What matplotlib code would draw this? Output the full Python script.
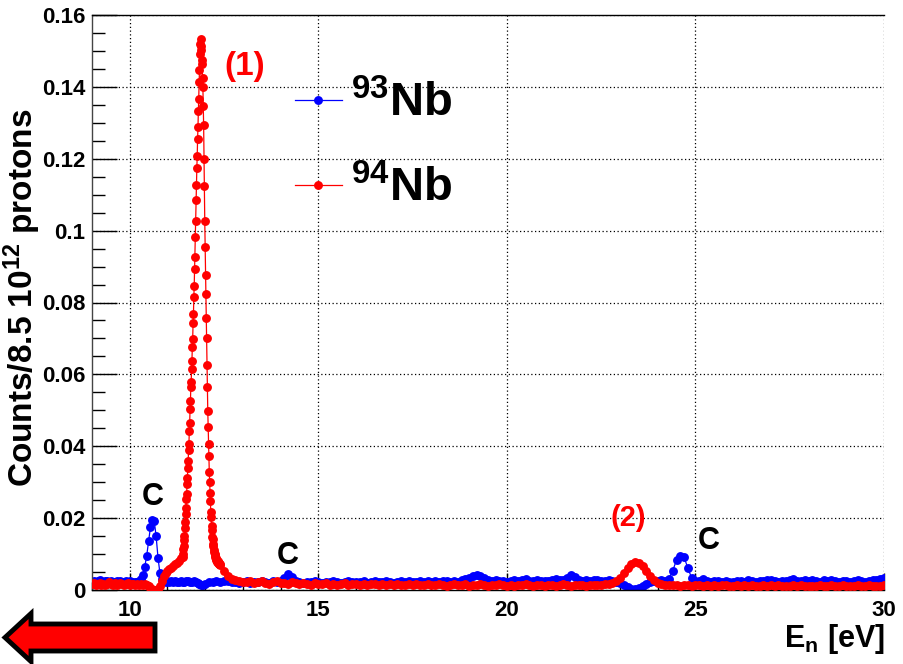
import numpy as np
import matplotlib
matplotlib.use("Agg")
import matplotlib.pyplot as plt
from matplotlib import patches, transforms
from matplotlib.ticker import MultipleLocator, FuncFormatter

# ---- data (counts in units of 1e-3 per 8.5e12 protons) ----
# 94Nb, three binnings: coarse left, fine around resonance (1), coarse right
nb94_x_left = np.linspace(9.0, 11.35, 48)
nb94_y_left = [1.6, 1.9, 1.4, 1.7, 2.0, 1.5, 1.8, 1.3, 1.6, 2.1,
               1.7, 1.5, 1.9, 1.4, 1.8, 2.0, 1.6, 1.4, 1.7, 1.9,
               1.5, 1.8, 1.6, 1.3, 1.7, 1.5, 1.8, 1.4, 1.6, 1.3,
               1.0, 0.6, 0.3, 0.1, 0.0, 0.3, 1.2, 2.5, 3.8, 4.8,
               5.4, 5.9, 6.2, 6.7, 7.1, 7.6, 8.2, 8.8]
nb94_x_peak = np.linspace(11.40, 12.39, 100)
nb94_y_peak = [9.3, 10.1, 11.4, 12.2, 13.8, 15.1, 17.3, 18.8, 21.2, 22.9,
               25.4, 26.8, 29.5, 31.2, 33.9, 35.8, 38.9, 40.6, 44.2, 46.5,
               50.3, 52.6, 56.4, 57.9, 61.5, 63.8, 67.6, 69.9, 74.3, 76.8,
               81.5, 84.6, 89.4, 92.8, 98.3, 102.6, 108.4, 112.7, 117.5, 120.8,
               125.6, 128.7, 133.4, 136.5, 141.3, 144.6, 149.1, 151.8, 153.2, 151.4,
               150.2, 147.6, 146.3, 142.5, 140.1, 134.6, 129.4, 119.8, 112.3, 102.7,
               95.4, 87.6, 82.3, 75.8, 70.2, 62.7, 56.4, 49.8, 45.3, 40.6,
               37.2, 32.8, 30.1, 26.9, 24.7, 21.8, 20.3, 17.9, 16.6, 14.8,
               14.1, 12.8, 12.2, 11.1, 10.6, 9.9, 9.7, 9.2, 8.9, 8.4,
               8.6, 8.1, 7.9, 8.2, 7.6, 7.8, 7.3, 7.5, 7.1, 7.2]
nb94_x_right = np.linspace(12.4, 30.0, 177)
nb94_y_right = [7.0, 5.2, 3.8, 3.1, 2.8, 2.5, 2.3,
                2.1, 2.4, 1.9, 2.2, 2.5, 2.0, 1.8, 2.2, 2.4, 1.9,
                2.0, 1.7, 2.1, 1.9, 1.6, 2.0, 1.8, 1.5, 1.9, 1.7,
                1.6, 1.9, 1.5, 1.8, 1.4, 1.7, 1.9, 1.5, 1.6, 1.8,
                1.5, 1.7, 1.4, 1.8, 1.6, 1.3, 1.7, 1.5, 1.8, 1.4,
                1.6, 1.3, 1.5, 1.7, 1.4, 1.6, 1.3, 1.5, 1.7, 1.4,
                1.3, 1.6, 1.4, 1.2, 1.5, 1.7, 1.3, 1.4, 1.6, 1.2,
                1.5, 1.3, 1.6, 1.4, 1.2, 1.5, 1.3, 1.6, 1.4, 1.2,
                1.4, 1.2, 1.5, 1.3, 1.6, 1.4, 1.2, 1.3, 1.5, 1.2,
                1.3, 1.5, 1.2, 1.4, 1.6, 1.3, 1.2, 1.4, 1.3, 1.5,
                1.2, 1.4, 1.3, 1.5, 1.4, 1.6, 1.8, 2.0, 2.6, 3.4,
                4.6, 6.0, 7.2, 7.8, 7.6, 6.8, 5.4, 3.9, 2.7, 1.9,
                1.6, 1.4, 1.3, 1.5, 1.4, 1.2, 1.3, 1.4, 1.2, 1.3,
                1.4, 1.2, 1.3, 1.1, 1.4, 1.2, 1.3, 1.5, 1.2, 1.1,
                1.3, 1.2, 1.4, 1.1, 1.3, 1.2, 1.0, 1.3, 1.2, 1.4,
                1.1, 1.3, 1.2, 1.0, 1.2, 1.4, 1.1, 1.3, 1.2, 1.0,
                1.2, 1.1, 1.3, 1.2, 1.0, 1.3, 1.1, 1.2, 1.4, 1.1,
                1.2, 1.0, 1.3, 1.1, 1.2, 1.4, 1.1, 1.0, 1.2, 1.3]

# 93Nb
nb93_x_left = np.linspace(9.0, 11.95, 60)
nb93_y_left = [2.2, 2.5, 2.1, 2.4, 2.7, 2.3, 2.0, 2.4, 2.6, 2.2,
               2.5, 2.1, 2.3, 2.6, 2.2, 2.4, 2.0, 2.3, 2.5, 2.1,
               2.4, 2.2, 2.0, 2.3, 2.1, 2.4, 3.0, 4.2, 6.5, 9.5,
               13.5, 17.5, 19.6, 19.2, 15.0, 9.0, 4.8, 3.0, 2.4, 2.2,
               2.5, 2.2, 2.4, 2.1, 2.6, 2.3, 2.2, 2.5, 2.3, 2.1,
               2.4, 2.6, 2.2, 2.3, 2.5, 2.1, 1.9, 1.6, 1.4, 1.5]
nb93_x_right = np.linspace(12.0, 30.0, 181)
nb93_y_right = [1.8, 2.1, 2.3, 2.5, 2.2, 2.6, 2.4, 2.1, 2.3, 2.0,
                2.2, 2.4, 2.0, 2.3, 2.1, 2.5, 2.2, 2.0, 2.4, 2.3,
                2.6, 3.4, 4.4, 3.6, 2.5, 2.2, 2.0, 2.3, 2.1, 2.4,
                2.2, 2.0, 2.3, 2.1, 2.4, 2.2, 2.0, 2.3, 2.5, 2.1,
                2.3, 2.1, 2.4, 2.0, 2.2, 2.5, 2.3, 2.1, 2.4, 2.2,
                2.0, 2.3, 2.5, 2.2, 2.4, 2.1, 2.3, 2.6, 2.2, 2.4,
                2.3, 2.5, 2.2, 2.4, 2.6, 2.3, 2.5, 2.2, 2.7, 3.0,
                3.4, 3.8, 4.2, 3.9, 3.3, 2.8, 2.5, 2.7, 2.4, 2.6,
                2.3, 2.5, 2.7, 2.4, 2.9, 3.1, 2.6, 2.4, 2.7, 2.5,
                2.6, 2.4, 2.8, 3.0, 2.7, 2.9, 3.4, 4.2, 3.6, 2.9,
                2.6, 2.8, 2.5, 2.7, 2.9, 2.6, 2.4, 2.7, 2.5, 2.3,
                2.0, 1.4, 0.8, 0.4, 0.3, 0.5, 1.0, 1.6, 2.2, 2.5,
                2.4, 2.7, 2.6, 3.2, 5.4, 8.4, 9.6, 9.2, 6.0, 3.4,
                2.6, 2.4, 3.2, 2.5, 2.3, 2.6, 2.4, 2.2, 2.5, 2.3,
                2.1, 2.4, 2.6, 2.3, 2.8, 2.5, 2.2, 2.6, 2.4, 2.7,
                2.9, 2.5, 2.3, 2.6, 2.4, 2.8, 3.0, 2.6, 2.4, 2.7,
                2.5, 2.9, 2.6, 2.3, 2.7, 2.4, 2.8, 2.5, 2.2, 2.6,
                2.4, 2.2, 2.5, 2.8, 2.6, 2.3, 2.5, 2.7, 2.9, 3.1,
                3.4]

series_labels = [r"$^{93}$Nb", r"$^{94}$Nb"]
peak_labels = ["(1)", "(2)"]
carbon_label = "C"
x_ticks = [10, 15, 20, 25, 30]
y_ticks = [0, 0.02, 0.04, 0.06, 0.08, 0.1, 0.12, 0.14, 0.16]

nb94_x = np.concatenate([nb94_x_left, nb94_x_peak, nb94_x_right])
nb94_y = np.concatenate([nb94_y_left, nb94_y_peak, nb94_y_right]) * 1e-3
nb93_x = np.concatenate([nb93_x_left, nb93_x_right])
nb93_y = np.concatenate([nb93_y_left, nb93_y_right]) * 1e-3

# ---- style ----
plt.rcParams['font.family'] = ['Liberation Sans', 'DejaVu Sans']
plt.rcParams['font.weight'] = 'bold'
plt.rcParams['mathtext.fontset'] = 'custom'
plt.rcParams['mathtext.rm'] = 'Liberation Sans:bold'
plt.rcParams['mathtext.it'] = 'Liberation Sans:bold'
plt.rcParams['mathtext.bf'] = 'Liberation Sans:bold'

W, H = 904, 664
fig = plt.figure(figsize=(W / 100, H / 100), dpi=100)
ax = fig.add_axes([92 / W, 74 / H, 792 / W, 575 / H])

ms = 6.4
ax.plot(nb93_x, nb93_y, color='#0000ff', lw=0.9, marker='o', ms=ms,
        mew=0, label=series_labels[0], zorder=2)
ax.plot(nb94_x, nb94_y, color='#ff0000', lw=0.9, marker='o', ms=ms,
        mew=0, label=series_labels[1], zorder=3)

ax.set_xlim(9, 30)
ax.set_ylim(0, 0.16)
ax.set_xticks(x_ticks)
ax.set_yticks(y_ticks)
ax.xaxis.set_minor_locator(MultipleLocator(1))
ax.yaxis.set_minor_locator(MultipleLocator(0.005))
ax.yaxis.set_major_formatter(FuncFormatter(lambda v, p: "%g" % v))
ax.set_axisbelow(True)
ax.grid(True, which='major', color='black', linestyle=(0, (1, 2)), lw=0.9)
ax.tick_params(which='both', direction='in', top=False, right=False,
               labelsize=16, width=1)
ax.tick_params(axis='y', which='major', length=18, pad=5)
ax.tick_params(axis='y', which='minor', length=9)
ax.tick_params(axis='x', which='major', length=12, pad=7)
ax.tick_params(axis='x', which='minor', length=6)
for lab in ax.get_xticklabels() + ax.get_yticklabels():
    lab.set_fontweight('bold')
ax.spines['right'].set_visible(False)
for s in ['left', 'top', 'bottom']:
    ax.spines[s].set_linewidth(1)
ax.spines['left'].set_color('#444444')

# annotations
ax.text(13.06, 0.1458, peak_labels[0], color='#ff0000', fontsize=24,
        fontweight='bold', ha='center', va='center')
ax.text(23.22, 0.0201, peak_labels[1], color='#ff0000', fontsize=21,
        fontweight='bold', ha='center', va='center')
for cx, cy in [(10.62, 0.026), (14.2, 0.0096), (25.34, 0.0136)]:
    ax.text(cx, cy, carbon_label, color='black', fontsize=22,
            fontweight='bold', ha='center', va='center')

leg = ax.legend(loc='upper left', bbox_to_anchor=(0.256, 0.885),
                frameon=False, fontsize=34, handlelength=1.0,
                handletextpad=0.2, labelspacing=0.85, borderpad=0,
                borderaxespad=0)

fig.text(22 / W, 1 - 298 / H, r"Counts/8.5 10$^{12}$ protons", rotation=90,
         ha='center', va='center', fontsize=24, fontweight='bold')
fig.text(885 / W, (H - 647) / H, r"E$_\mathrm{n}$ [eV]", ha='right',
         va='baseline', fontsize=22, fontweight='bold')

# arrow in lower-left corner (pixel coords from top-left)
pix = transforms.Affine2D().scale(1 / W, -1 / H).translate(0, 1) + fig.transFigure
arrow = patches.FancyArrow(155, 637.5, -150, 0, width=27, head_width=48,
                           head_length=26, length_includes_head=True,
                           facecolor='#ff0000', edgecolor='black', lw=3.5,
                           joinstyle='miter', transform=pix)
fig.patches.append(arrow)

fig.savefig("out.png", dpi=100)
